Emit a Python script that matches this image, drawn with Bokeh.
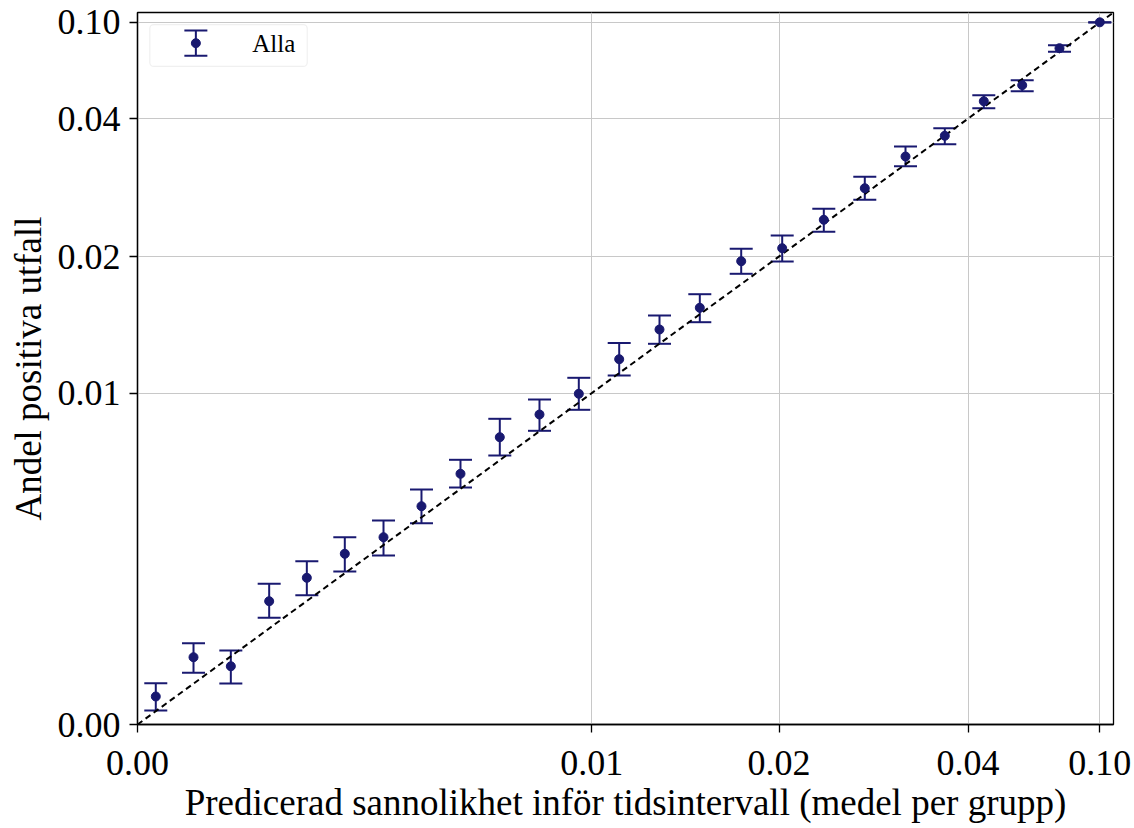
import numpy as np
from bokeh.plotting import figure
from bokeh.models import (ColumnDataSource, Whisker, TeeHead, FixedTicker, Range1d,
                          BoxAnnotation, Label)
from bokeh.embed import file_html
from bokeh.resources import INLINE

# ---------------- data ----------------
series_label = "Alla"
x_title = "Predicerad sannolikhet inför tidsintervall (medel per grupp)"
y_title = "Andel positiva utfall"
pred_mean = [0.0000162, 0.000152, 0.000422, 0.000840, 0.001389, 0.002082, 0.002932,
             0.003907, 0.005054, 0.006359, 0.007829, 0.009435, 0.011248, 0.013219,
             0.015349, 0.017703, 0.020279, 0.024117, 0.028223, 0.032621, 0.037167,
             0.04574, 0.06138, 0.07876, 0.09998]
obs_rate = [0.0000714, 0.000412, 0.000309, 0.001384, 0.001959, 0.002653, 0.003193,
            0.004338, 0.005722, 0.007514, 0.008748, 0.009956, 0.012160, 0.014228,
            0.015841, 0.019599, 0.021010, 0.024652, 0.029047, 0.033818, 0.037130,
            0.048852, 0.057778, 0.081290, 0.101279]
obs_lo = [0.0000178, 0.000243, 0.000153, 0.001036, 0.001522, 0.002131, 0.002600,
          0.003689, 0.005113, 0.006587, 0.007852, 0.009015, 0.011094, 0.013212,
          0.014761, 0.018544, 0.019573, 0.023077, 0.027392, 0.032320, 0.035767,
          0.045182, 0.054345, 0.078825, 0.099978]
obs_hi = [0.0001553, 0.000602, 0.000498, 0.001802, 0.002428, 0.003193, 0.003789,
          0.005027, 0.006378, 0.008507, 0.009615, 0.010947, 0.013267, 0.015259,
          0.016896, 0.020936, 0.022603, 0.026142, 0.030721, 0.035399, 0.038384,
          0.052113, 0.060724, 0.083370, 0.102516]

tick_values = [0.0, 0.01, 0.02, 0.04, 0.10]
tick_labels = ["0.00", "0.01", "0.02", "0.04", "0.10"]

# axis scale (quantile-like): fraction of the axis at which each value sits
scale_values = [0.0, 0.01, 0.02, 0.04, 0.10, 0.20]
scale_pos = [0.0, 0.4655, 0.6573, 0.851, 0.986, 1.0]
axis_max = 0.20


def to_axis(v):
    return np.interp(np.sqrt(np.asarray(v, dtype=float)), np.sqrt(scale_values), scale_pos)


COLOR = "#191970"
FONT = "Liberation Serif"

src = ColumnDataSource(dict(
    x=to_axis(pred_mean), y=to_axis(obs_rate),
    lo=to_axis(obs_lo), hi=to_axis(obs_hi),
))

p = figure(width=1134, height=828, output_backend="svg", toolbar_location=None,
           x_range=Range1d(0, 1), y_range=Range1d(0, 1),
           min_border_left=137, min_border_right=21, min_border_top=12, min_border_bottom=104)
p.background_fill_color = "white"
p.border_fill_color = "white"
p.outline_line_color = "black"
p.outline_line_width = 1.3

tick_pos = [float(t) for t in to_axis(tick_values)]
overrides = {tp: lab for tp, lab in zip(tick_pos, tick_labels)}
for ax in (p.xaxis[0], p.yaxis[0]):
    ax.ticker = FixedTicker(ticks=tick_pos)
    ax.major_label_overrides = overrides
    ax.minor_tick_line_color = None
    ax.major_tick_in = 0
    ax.major_tick_out = 8
    ax.major_tick_line_width = 1.3
    ax.axis_line_width = 1.3
    ax.axis_line_color = "black"
    ax.major_tick_line_color = "black"
    ax.major_label_text_font = FONT
    ax.major_label_text_font_size = "36px"
    ax.major_label_text_color = "black"
    ax.axis_label_text_font = FONT
    ax.axis_label_text_font_size = "37px"
    ax.axis_label_text_font_style = "normal"
    ax.axis_label_text_color = "black"

p.xaxis.axis_label = x_title
p.yaxis.axis_label = y_title
p.xaxis.major_label_standoff = 18
p.xaxis.axis_label_standoff = 4
p.yaxis.major_label_standoff = 9
p.yaxis.axis_label_standoff = 6

p.xgrid.ticker = FixedTicker(ticks=tick_pos)
p.ygrid.ticker = FixedTicker(ticks=tick_pos)
p.grid.grid_line_color = "#c8c8c8"
p.grid.grid_line_width = 1

# diagonal reference line
diag = to_axis([0.0, axis_max])
p.line(diag, diag, line_color="black", line_width=2, line_dash="6 4")

# error bars + points
whisk = Whisker(source=src, base="x", upper="hi", lower="lo", dimension="height",
                line_color=COLOR, line_width=2,
                upper_head=TeeHead(size=23, line_color=COLOR, line_width=2),
                lower_head=TeeHead(size=23, line_color=COLOR, line_width=2))
p.add_layout(whisk)
p.scatter("x", "y", source=src, size=9, color=COLOR)

# legend (drawn in frame-fraction coordinates)
box = BoxAnnotation(left=0.0126, right=0.1739, top=0.9831, bottom=0.9242,
                    fill_color="white", fill_alpha=0.8, line_color="#cccccc",
                    line_width=1.2, border_radius=4, level="underlay")
p.add_layout(box)
leg_src = ColumnDataSource(dict(x=[0.0598], y=[0.9569], lo=[0.9391], hi=[0.9747]))
p.add_layout(Whisker(source=leg_src, base="x", upper="hi", lower="lo", dimension="height",
                     line_color=COLOR, line_width=2,
                     upper_head=TeeHead(size=23, line_color=COLOR, line_width=2),
                     lower_head=TeeHead(size=23, line_color=COLOR, line_width=2)))
p.scatter("x", "y", source=leg_src, size=9, color=COLOR)
p.add_layout(Label(x=0.1175, y=0.9565, text=series_label, text_baseline="middle",
                   text_font=FONT, text_font_size="25px", text_color="black"))

open("out.html", "w").write(file_html(p, INLINE))
